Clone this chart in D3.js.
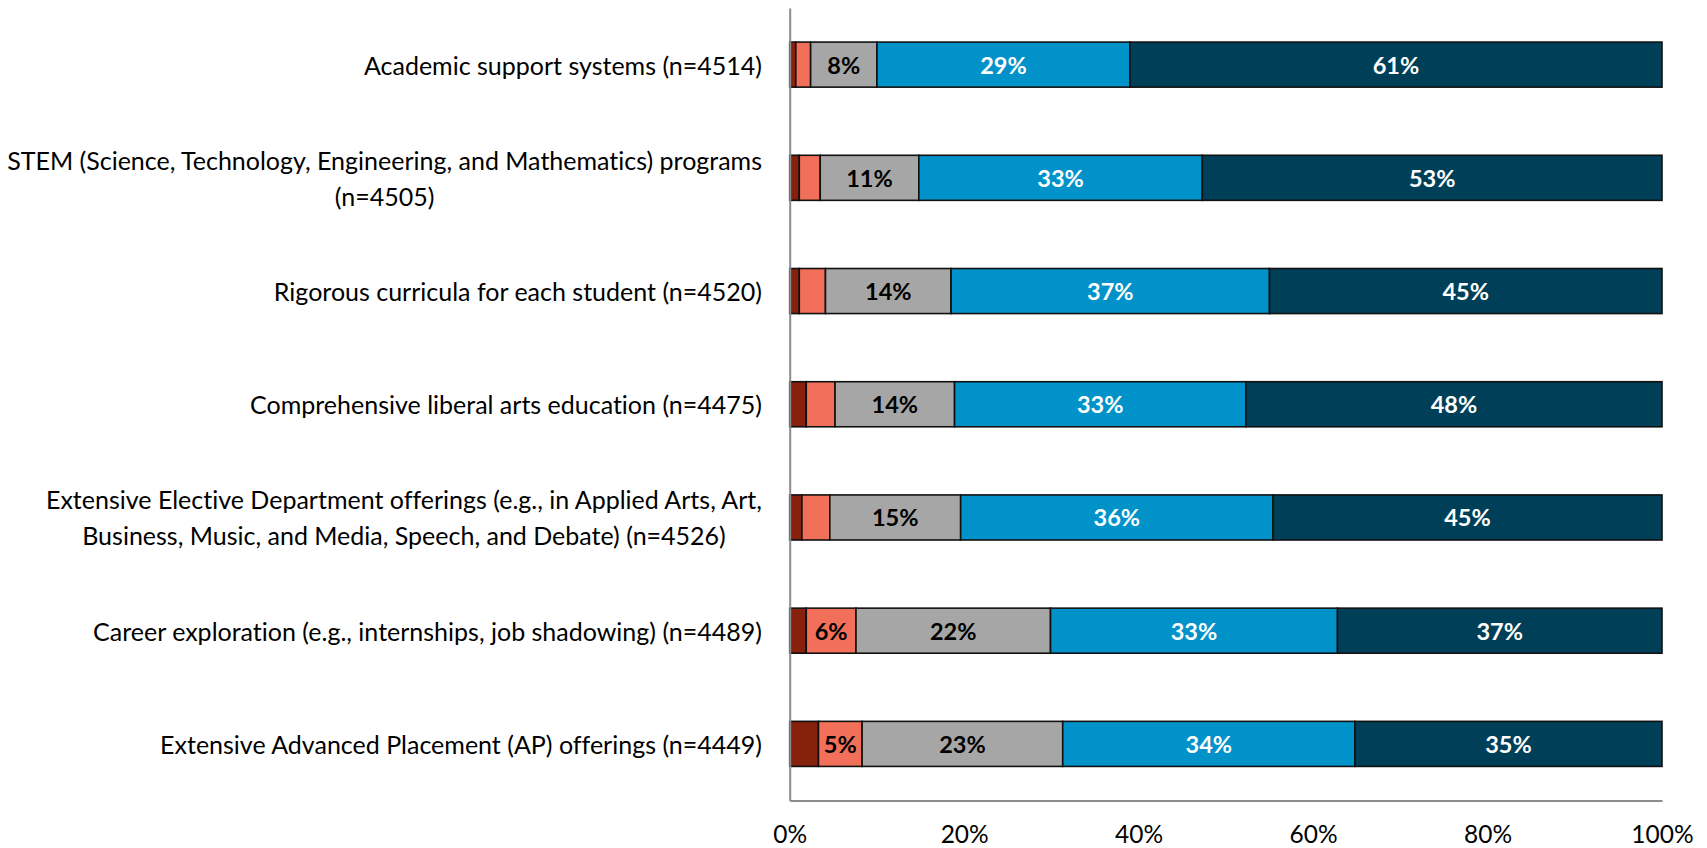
<!DOCTYPE html>
<html>
<head>
<meta charset="utf-8">
<script src="https://cdn.jsdelivr.net/npm/d3@7"></script>
<style>
  body { margin: 0; background: #fff; }
  svg { display: block; }
  text { font-family: Lato, "Liberation Sans", sans-serif; font-variant-ligatures: none; font-feature-settings: "liga" 0, "dlig" 0; }
</style>
</head>
<body>
<svg id="chart" width="1707" height="848"></svg>
<script>
// Category labels (line breaks mark where long labels wrap)
const categories = [
  "Academic support systems (n=4514)",
  "STEM (Science, Technology, Engineering, and Mathematics) programs\n(n=4505)",
  "Rigorous curricula for each student (n=4520)",
  "Comprehensive liberal arts education (n=4475)",
  "Extensive Elective Department offerings (e.g., in Applied Arts, Art,\nBusiness, Music, and Media, Speech, and Debate) (n=4526)",
  "Career exploration (e.g., internships, job shadowing) (n=4489)",
  "Extensive Advanced Placement (AP) offerings (n=4449)"
];

// Response shares (percent), lowest rating to highest rating
const level1 = [0.7, 1.1, 1.1, 1.9, 1.4, 1.9, 3.3];
const level2 = [1.7, 2.4, 3.0, 3.3, 3.2, 5.7, 5.0];
const level3 = [7.6, 11.3, 14.4, 13.7, 15.0, 22.3, 23.0];
const level4 = [29.0, 32.5, 36.5, 33.4, 35.8, 32.9, 33.5];
const level5 = [61.0, 52.7, 45.0, 47.7, 44.6, 37.2, 35.2];

const seriesKeys = ["level1", "level2", "level3", "level4", "level5"];
const seriesValues = [level1, level2, level3, level4, level5];
const seriesColors = ["#86210d", "#f2705a", "#a6a6a6", "#0092c8", "#003f58"];
const labelColors = ["#000", "#000", "#000", "#fff", "#fff"];

const tickValues = [0, 20, 40, 60, 80, 100];

const svg = d3.select("#chart");
const margin = { left: 789.7, right: 1707 - 1662, top: 8, bottom: 848 - 800.5 };
const W = 1707, H = 848;

const x = d3.scaleLinear().domain([0, 100]).range([margin.left, W - margin.right]);
const y = d3.scaleBand()
  .domain(categories)
  .range([margin.top, H - margin.bottom])
  .paddingInner(0.602)
  .paddingOuter(0.301);

// Build rows for stacking
const rows = categories.map((c, i) => {
  const r = { category: c };
  seriesKeys.forEach((k, j) => { r[k] = seriesValues[j][i]; });
  return r;
});
const stacked = d3.stack().keys(seriesKeys)(rows);

// Bars
const layers = svg.append("g").selectAll("g")
  .data(stacked)
  .join("g")
  .attr("fill", (d, i) => seriesColors[i]);

layers.selectAll("rect")
  .data(d => d)
  .join("rect")
  .attr("x", d => x(d[0]))
  .attr("y", d => y(d.data.category))
  .attr("width", d => x(d[1]) - x(d[0]))
  .attr("height", y.bandwidth())
  .attr("stroke", "#111")
  .attr("stroke-width", 1.6);

// Value labels inside segments
layers.each(function (layer, li) {
  d3.select(this).selectAll("text")
    .data(layer.filter(d => Math.round(d[1] - d[0]) >= 5))
    .join("text")
    .attr("x", d => (x(d[0]) + x(d[1])) / 2)
    .attr("y", d => y(d.data.category) + y.bandwidth() / 2)
    .attr("text-anchor", "middle")
    .attr("dominant-baseline", "central")
    .attr("font-size", 23.5)
    .attr("font-weight", 700)
    .attr("fill", labelColors[li])
    .text(d => Math.round(d[1] - d[0]) + "%");
});

// Bottom axis
const xAxis = svg.append("g")
  .attr("transform", `translate(0,${H - margin.bottom})`)
  .call(d3.axisBottom(x).tickValues(tickValues).tickFormat(d => d + "%").tickSize(0).tickPadding(25));
xAxis.select(".domain").attr("stroke", "#8c8c8c").attr("stroke-width", 2);
xAxis.selectAll(".tick text")
  .attr("font-family", "Lato, 'Liberation Sans', sans-serif")
  .attr("font-size", 24.5)
  .attr("fill", "#000");

// Left axis (line only; labels drawn below so they can wrap)
const yAxis = svg.append("g")
  .attr("transform", `translate(${margin.left},0)`)
  .call(d3.axisLeft(y).tickSize(0).tickFormat(""));
yAxis.select(".domain").attr("stroke", "#8c8c8c").attr("stroke-width", 2);

// Category labels: block right-aligned, lines centred within the block
const labelRight = 762;
const lineHeight = 36;
const catG = svg.append("g");
categories.forEach(c => {
  const lines = c.split("\n");
  const g = catG.append("g");
  const cy = y(c) + y.bandwidth() / 2;
  const texts = lines.map((ln, i) => g.append("text")
    .attr("y", cy + (i - (lines.length - 1) / 2) * lineHeight)
    .attr("dominant-baseline", "central")
    .attr("text-anchor", "middle")
    .attr("font-size", 25)
    .attr("fill", "#000")
    .text(ln));
  const maxW = d3.max(texts, t => t.node().getComputedTextLength());
  texts.forEach(t => t.attr("x", labelRight - maxW / 2));
});
</script>
</body>
</html>
